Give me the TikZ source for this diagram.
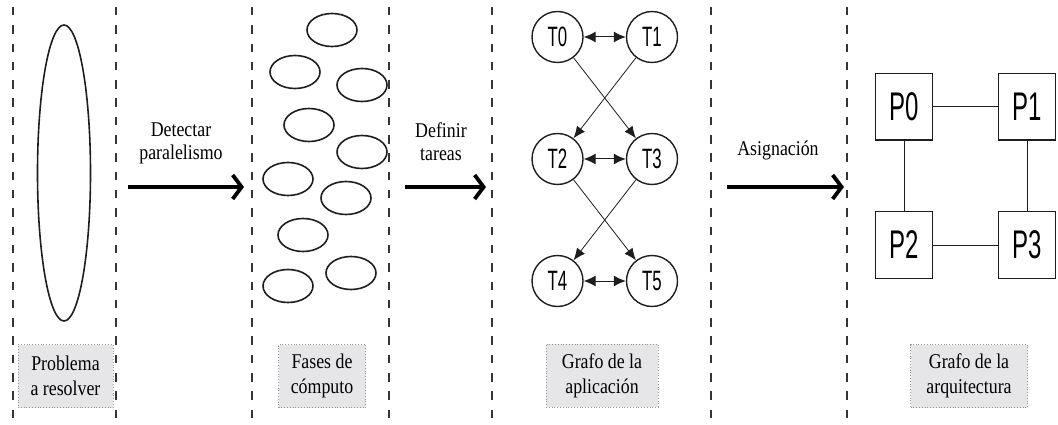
\documentclass[tikz,border=0pt]{standalone}
\usepackage{fontspec}
\setmainfont{Liberation Serif}[FakeStretch=0.85]
\newfontfamily\condfont[FakeStretch=0.6]{Liberation Sans}
\usetikzlibrary{arrows.meta,shapes.geometric}
\definecolor{capfill}{RGB}{230,230,232}
\definecolor{ink}{RGB}{30,30,30}
\tikzset{
  sepline/.style={draw=ink!90, line width=1.3pt, dash pattern=on 8.5pt off 9.8pt},
  blob/.style={draw=ink, line width=1.6pt, ellipse, inner sep=0pt, minimum width=50pt, minimum height=33pt},
  bigblob/.style={draw=ink, line width=1.6pt, ellipse, inner sep=0pt, minimum width=53pt, minimum height=296pt},
  task/.style={draw=ink, line width=1.4pt, circle, inner sep=0pt, minimum size=51pt, font=\condfont\fontsize{28}{28}\selectfont},
  proc/.style={draw=ink, line width=1.2pt, rectangle, inner sep=0pt, minimum width=57.7pt, minimum height=66.7pt, font=\condfont\fontsize{40}{40}\selectfont},
  bigarrow/.style={draw=black, line width=3.8pt, -{Straight Barb[length=9pt,width=24pt,line width=3.8pt]}},
  steplabel/.style={align=center, inner sep=0pt, font=\fontsize{21}{23}\selectfont},
  caption/.style={fill=capfill, draw=gray!80, dotted, line width=0.8pt, align=center, inner sep=0pt, minimum height=63pt, font=\fontsize{21}{25}\selectfont},
  link/.style={draw=ink, line width=0.9pt},
  darrow/.style={draw=ink, line width=1pt, {Latex[length=12pt,width=11pt]}-{Latex[length=12pt,width=11pt]}},
  sarrow/.style={draw=ink, line width=0.8pt, -{Latex[length=12pt,width=10pt]}},
}
\begin{document}
\begin{tikzpicture}[x=1pt,y=-1pt]
\useasboundingbox (0,0) rectangle (1058,425);
% separators
\foreach \xx [count=\i] in {13,116,252,389,492,711,847} {
  \coordinate (st\i) at (\xx,7);
  \coordinate (sb\i) at (\xx,425);
  \draw[sepline] (st\i) -- (sb\i);
}
% problem
\node[bigblob] (prob) at (64,173) {};
% arrows with labels
\coordinate (a1s) at (128,187); \coordinate (a1e) at (244,187);
\draw[bigarrow] (a1s) -- (a1e);
\node[steplabel] (l1) at (181,143) {Detectar\\paralelismo};
\coordinate (a2s) at (405,187); \coordinate (a2e) at (486,187);
\draw[bigarrow] (a2s) -- (a2e);
\node[steplabel] (l2) at (441,142) {Definir\\tareas};
\coordinate (a3s) at (727,187); \coordinate (a3e) at (844,187);
\draw[bigarrow] (a3s) -- (a3e);
\node[steplabel] (l3) at (778,150) {Asignación};
% phases
\node[blob] (e1) at (332,30) {};
\node[blob] (e2) at (295,72) {};
\node[blob] (e3) at (362,85) {};
\node[blob] (e4) at (309,125) {};
\node[blob] (e5) at (362,152) {};
\node[blob] (e6) at (288,179) {};
\node[blob] (e7) at (346,198) {};
\node[blob] (e8) at (303,235) {};
\node[blob] (e9) at (351,273) {};
\node[blob] (e10) at (288,286) {};
% task graph
\node[task] (T0) at (557.5,37) {T0};
\node[task] (T1) at (652,37) {T1};
\node[task] (T2) at (557.5,159) {T2};
\node[task] (T3) at (652,159) {T3};
\node[task] (T4) at (557.5,281) {T4};
\node[task] (T5) at (652,281) {T5};
\draw[darrow] (T0) -- (T1);
\draw[darrow] (T2) -- (T3);
\draw[darrow] (T4) -- (T5);
\draw[sarrow] (T0) -- (T3);
\draw[sarrow] (T1) -- (T2);
\draw[sarrow] (T2) -- (T5);
\draw[sarrow] (T3) -- (T4);
% architecture
\node[proc] (P0) at (904,106.7) {P0};
\node[proc] (P1) at (1027,106.7) {P1};
\node[proc] (P2) at (904,245) {P2};
\node[proc] (P3) at (1027,245) {P3};
\draw[link] (P0) -- (P1);
\draw[link] (P2) -- (P3);
\draw[link] (P0) -- (P2);
\draw[link] (P1) -- (P3);
% captions
\node[caption, minimum width=95pt] (c1) at (65.5,376) {Problema\\a resolver};
\node[caption, minimum width=87pt] (c2) at (322,376) {Fases de\\cómputo};
\node[caption, minimum width=112pt] (c3) at (602,375.5) {Grafo de la\\aplicación};
\node[caption, minimum width=117pt] (c4) at (969,376) {Grafo de la\\arquitectura};
\end{tikzpicture}
\end{document}
